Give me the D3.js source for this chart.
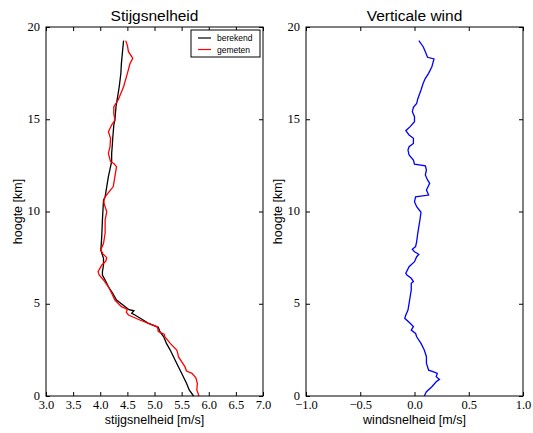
<!DOCTYPE html>
<html>
<head>
<meta charset="utf-8">
<script src="https://cdn.jsdelivr.net/npm/d3@7"></script>
<style>
  body { margin: 0; background: #fff; }
  .tick text { font-family: "Liberation Serif", "DejaVu Serif", serif; font-size: 12.5px; fill: #000; }
  .lbl { font-family: "Liberation Sans", Arial, sans-serif; font-size: 12.5px; }
  .ttl { font-family: "Liberation Sans", Arial, sans-serif; font-size: 15.5px; }
</style>
</head>
<body>
<div id="chart"></div>
<script>
// berekend (black) and gemeten (red) rise speed, height in km
const berekendH = [0, 0.33, 0.69, 1.23, 1.59, 2.13, 2.49, 2.85, 3.21, 3.49, 3.72, 3.95, 4.12, 4.39, 4.48, 4.62, 4.68, 4.84, 5.2, 5.57, 5.92, 6.29, 6.56, 6.74, 7.1, 7.46, 7.91, 8.28, 8.82, 9.54, 10.08, 10.62, 10.8, 11.35, 11.89, 12.43, 12.7, 13.15, 13.51, 13.97, 14.32, 14.69, 14.96, 15.68, 16.04, 16.76, 17.49, 18.03, 18.66, 19.26];
const berekendV = [5.72, 5.64, 5.59, 5.50, 5.44, 5.35, 5.29, 5.22, 5.17, 5.10, 5.07, 4.88, 4.79, 4.64, 4.58, 4.62, 4.53, 4.46, 4.30, 4.23, 4.15, 4.09, 4.04, 4.04, 4.06, 4.06, 4.01, 4.02, 4.03, 4.04, 4.05, 4.06, 4.09, 4.12, 4.15, 4.19, 4.21, 4.21, 4.22, 4.23, 4.24, 4.25, 4.27, 4.29, 4.31, 4.35, 4.38, 4.39, 4.41, 4.43];

const gemetenH = [0, 0.33, 0.69, 1.0, 1.23, 1.35, 1.59, 2.13, 2.3, 2.49, 2.85, 3.21, 3.35, 3.49, 3.65, 3.75, 4.12, 4.39, 4.55, 4.7, 4.84, 5.2, 5.57, 5.92, 6.29, 6.56, 6.74, 7.1, 7.3, 7.5, 7.7, 7.91, 8.28, 8.82, 9.54, 9.99, 10.44, 10.62, 10.8, 11.35, 11.89, 12.43, 12.6, 12.7, 13.15, 13.51, 13.97, 14.32, 14.69, 14.96, 15.3, 15.68, 16.04, 16.76, 17.49, 18.03, 18.3, 18.66, 19.0, 19.26];
const gemetenV = [5.82, 5.78, 5.79, 5.76, 5.69, 5.59, 5.56, 5.44, 5.43, 5.41, 5.29, 5.19, 5.18, 5.07, 5.06, 5.05, 4.73, 4.52, 4.48, 4.50, 4.39, 4.27, 4.21, 4.15, 4.06, 3.98, 3.96, 4.03, 4.10, 4.12, 4.05, 4.01, 4.06, 4.09, 4.09, 4.12, 4.07, 4.07, 4.09, 4.24, 4.27, 4.30, 4.25, 4.19, 4.15, 4.18, 4.19, 4.15, 4.21, 4.27, 4.25, 4.25, 4.33, 4.43, 4.50, 4.55, 4.60, 4.52, 4.50, 4.47];

// verticale wind (blue)
const windH = [0, 0.23, 0.5, 0.77, 0.9, 1.05, 1.23, 1.32, 1.4, 1.59, 1.77, 2.13, 2.49, 2.85, 3.21, 3.39, 3.57, 3.76, 3.94, 4.21, 4.39, 4.66, 5.02, 5.38, 5.75, 6.11, 6.2, 6.38, 6.56, 6.65, 7.01, 7.28, 7.55, 7.68, 7.82, 7.95, 8.1, 8.37, 8.82, 9.18, 9.54, 9.96, 10.26, 10.53, 10.8, 10.89, 11.17, 11.53, 11.71, 11.98, 12.25, 12.48, 12.57, 12.79, 13.06, 13.33, 13.51, 13.69, 13.97, 14.15, 14.38, 14.6, 14.87, 15.14, 15.41, 15.65, 15.86, 16.1, 16.59, 16.95, 17.22, 17.49, 17.85, 18.27, 18.36, 18.66, 18.93, 19.26];
const windV = [0.09, 0.11, 0.16, 0.20, 0.23, 0.20, 0.21, 0.17, 0.13, 0.12, 0.11, 0.11, 0.09, 0.06, 0.02, 0.01, -0.03, -0.01, -0.04, -0.09, -0.08, -0.06, -0.05, -0.04, -0.03, -0.03, -0.01, -0.03, -0.07, -0.08, -0.05, 0.0, 0.02, 0.04, 0.0, -0.02, 0.01, 0.02, 0.03, 0.04, 0.05, 0.06, 0.02, 0.0, 0.01, 0.13, 0.11, 0.14, 0.12, 0.10, 0.11, 0.10, 0.0, -0.01, -0.05, -0.06, -0.05, -0.01, -0.01, -0.05, -0.08, -0.04, 0.0, 0.0, -0.02, -0.01, 0.02, 0.03, 0.06, 0.08, 0.10, 0.13, 0.16, 0.18, 0.12, 0.10, 0.08, 0.04];

const yTicks = [0, 5, 10, 15, 20];
const leftTicks = [3.0, 3.5, 4.0, 4.5, 5.0, 5.5, 6.0, 6.5, 7.0];
const rightTicks = [-1.0, -0.5, 0.0, 0.5, 1.0];

const W = 533, H = 433;
const plotTop = 27, plotBottom = 396;

const svg = d3.select("#chart").append("svg")
  .attr("width", W).attr("height", H);

function panel(opts) {
  const x = d3.scaleLinear().domain(opts.xDomain).range([opts.left, opts.right]);
  const y = d3.scaleLinear().domain([0, 20]).range([plotBottom, plotTop]);
  const g = svg.append("g");
  const fmt = d => d3.format(".1f")(d).replace("-", "\u2212");

  g.append("g").attr("transform", `translate(0,${plotBottom})`)
    .call(d3.axisBottom(x).tickValues(opts.xTicks).tickFormat(fmt).tickSizeInner(-4).tickSizeOuter(0).tickPadding(4.5));
  g.append("g").attr("transform", `translate(0,${plotTop})`)
    .call(d3.axisTop(x).tickValues(opts.xTicks).tickFormat("").tickSizeInner(-4).tickSizeOuter(0));
  const yAx = g.append("g").attr("transform", `translate(${opts.left},0)`)
    .call(d3.axisLeft(y).tickValues(yTicks).tickFormat(d3.format("d")).tickSizeInner(-4).tickSizeOuter(0).tickPadding(6));
  yAx.selectAll("text").attr("dy", "0.25em");
  g.append("g").attr("transform", `translate(${opts.right},0)`)
    .call(d3.axisRight(y).tickValues(yTicks).tickFormat("").tickSizeInner(-4).tickSizeOuter(0));
  g.selectAll(".domain").remove();
  g.selectAll(".tick line").attr("stroke", "#000");

  const line = d3.line().x(d => x(d[1])).y(d => y(d[0]));
  opts.series.forEach(s => {
    g.append("path")
      .datum(s.h.map((h, i) => [h, s.v[i]]))
      .attr("d", line)
      .attr("fill", "none")
      .attr("stroke", s.color)
      .attr("stroke-width", 1.3);
  });

  g.append("rect")
    .attr("x", opts.left).attr("y", plotTop)
    .attr("width", opts.right - opts.left).attr("height", plotBottom - plotTop)
    .attr("fill", "none").attr("stroke", "#000").attr("stroke-width", 1);

  const cx = (opts.left + opts.right) / 2;
  g.append("text").attr("class", "ttl")
    .attr("x", cx).attr("y", 21).attr("text-anchor", "middle").text(opts.title);
  g.append("text").attr("class", "lbl")
    .attr("x", cx).attr("y", 424).attr("text-anchor", "middle").text(opts.xLabel);
  g.append("text").attr("class", "lbl")
    .attr("transform", `translate(${opts.left - 24},${(plotTop + plotBottom) / 2}) rotate(-90)`)
    .attr("text-anchor", "middle").text("hoogte [km]");
  return g;
}

const gl = panel({
  left: 46, right: 263, xDomain: [3, 7], xTicks: leftTicks,
  title: "Stijgsnelheid", xLabel: "stijgsnelheid [m/s]",
  series: [
    { h: berekendH, v: berekendV, color: "#000" },
    { h: gemetenH, v: gemetenV, color: "#ff0000" }
  ]
});

// legend
const legend = [{ name: "berekend", color: "#000" }, { name: "gemeten", color: "#ff0000" }];
const lg = gl.append("g").attr("transform", "translate(191,30)");
lg.append("rect").attr("width", 69).attr("height", 27)
  .attr("fill", "#fff").attr("stroke", "#000").attr("stroke-width", 1);
legend.forEach((d, i) => {
  lg.append("line").attr("x1", 7).attr("x2", 20).attr("y1", 8 + i * 11.5).attr("y2", 8 + i * 11.5)
    .attr("stroke", d.color).attr("stroke-width", 1.2);
  lg.append("text").attr("x", 26).attr("y", 11 + i * 11.5)
    .style("font-family", "Liberation Sans, Arial, sans-serif").style("font-size", "8.5px")
    .text(d.name);
});

panel({
  left: 306, right: 523, xDomain: [-1, 1], xTicks: rightTicks,
  title: "Verticale wind", xLabel: "windsnelheid [m/s]",
  series: [{ h: windH, v: windV, color: "#0000ff" }]
});
</script>
</body>
</html>
